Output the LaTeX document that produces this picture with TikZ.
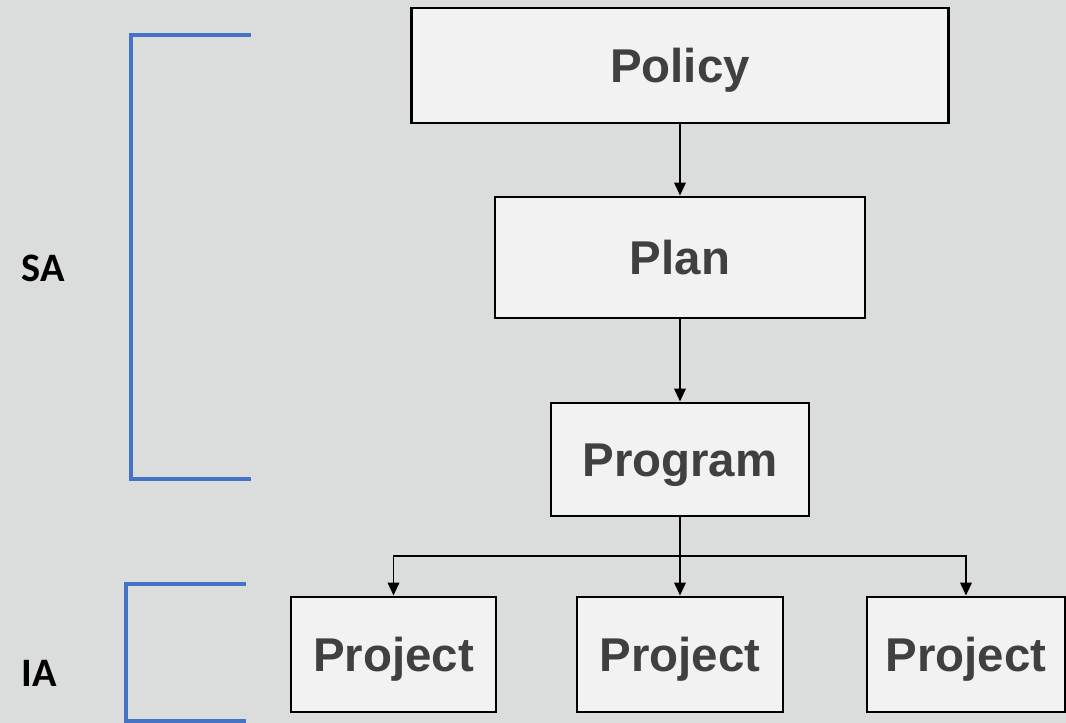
\documentclass[tikz,border=0pt]{standalone}
\usepackage{fontspec}
\setmainfont{Liberation Sans}
\newfontfamily\calib{Carlito}
\usepackage{tikz}
\usetikzlibrary{arrows.meta,positioning,calc}
\definecolor{hgrund}{RGB}{219,220,220}
\definecolor{kasten}{RGB}{242,242,242}
\definecolor{schrift}{RGB}{64,64,64}
\definecolor{klammer}{RGB}{68,114,196}

\begin{document}
\begin{tikzpicture}[x=0.02cm,y=-0.02cm,
  stufe/.style={draw=black,line width=1.7pt,fill=kasten,text=schrift,
    font=\fontsize{27}{31}\selectfont\bfseries,inner sep=0pt,
    text height=19.3pt,text depth=0pt},
  pfeil/.style={line width=1.1pt,-{Triangle[length=7.4pt,width=6.6pt]}},
  klam/.style={draw=klammer,line width=2.8pt},
  abk/.style={font=\calib\fontsize{23}{27}\selectfont\bfseries,text=black}]
%Hintergrund in Pixelmassen (1066 x 723)
\fill[hgrund] (0,0) rectangle (1066,723);
\useasboundingbox (0,0) rectangle (1066,723);
%Stufen
\node[stufe,minimum width=537*0.02cm,minimum height=115*0.02cm] (policy) at (680,65.5) {Policy};
\node[stufe,minimum width=370*0.02cm,minimum height=121*0.02cm] (plan) at (680,257.5) {Plan};
\node[stufe,minimum width=258*0.02cm,minimum height=113*0.02cm] (program) at (680,459.5) {Program};
\node[stufe,minimum width=205*0.02cm,minimum height=115*0.02cm] (projA) at (393.5,654.5) {Project};
\node[stufe,minimum width=206*0.02cm,minimum height=115*0.02cm] (projB) at (680,654.5) {Project};
\node[stufe,minimum width=198*0.02cm,minimum height=115*0.02cm] (projC) at (966,654.5) {Project};
\coordinate (teil) at (680,556);
%Verbindungen
\draw[pfeil] (policy) -- (plan);
\draw[pfeil] (plan) -- (program);
\draw[line width=1.1pt] (program) -- (teil);
\draw[pfeil] (teil) -- (projB);
\foreach \p in {projA,projC}{
\draw[pfeil] (teil) -| (\p.north);
}
%Klammern
\coordinate (saO) at (251,35);
\coordinate (saU) at (251,479);
\coordinate (iaO) at (246,584);
\coordinate (iaU) at (246,721);
\draw[klam] (saO) -| (131,479) -- (saU);
\draw[klam] (iaO) -| (126,721) -- (iaU);
\node[abk] (sa) at (43,268) {SA};
\node[abk] (ia) at (39,673) {IA};
\end{tikzpicture}
\end{document}
